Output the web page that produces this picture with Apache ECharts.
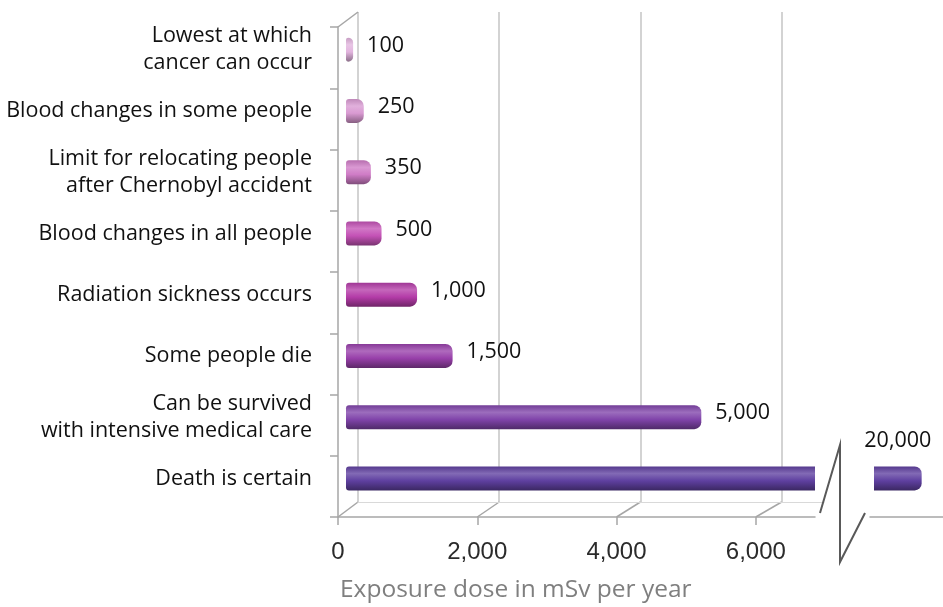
<!DOCTYPE html>
<html>
<head>
<meta charset="utf-8">
<script src="https://cdn.jsdelivr.net/npm/echarts@6/dist/echarts.min.js"></script>
<style>
  html, body { margin: 0; padding: 0; background: #fff; }
  #chart { width: 943px; height: 607px; }
</style>
</head>
<body>
<div id="chart"></div>
<script>
// data
const categories = [
  "Lowest at which\ncancer can occur",
  "Blood changes in some people",
  "Limit for relocating people\nafter Chernobyl accident",
  "Blood changes in all people",
  "Radiation sickness occurs",
  "Some people die",
  "Can be survived\nwith intensive medical care",
  "Death is certain"
];
const doses = [100, 250, 350, 500, 1000, 1500, 5000, 20000];
const barColors = ["#e2b4de", "#d99ad2", "#cf7cc6", "#c452b6", "#b43ca8", "#9840aa", "#8044aa", "#5f40a0"];
const tickValues = [0, 2000, 4000, 6000];
const brokenIndex = 7; // this bar runs past the axis break

const FONT = "'Open Sans', sans-serif";
const AXIS_GREY = "#a6a6a6";

// 3D box: front floor edge, back wall, bars in between
const front = { left: 338, top: 27, width: 477, height: 490 };
const back = { left: 358, top: 12, width: 466, height: 490 };
const bars = { left: 346, top: 19, width: 469, height: 490 };
const tail = { left: 874, top: 19, width: 69, height: 490 };
const tailFloor = { left: 870, top: 27, width: 73, height: 490 };

function mix(hex, amt) {
  const n = parseInt(hex.slice(1), 16);
  let r = (n >> 16) & 255, g = (n >> 8) & 255, b = n & 255;
  const t = amt > 0 ? 255 : 0, k = Math.abs(amt);
  r = Math.round(r + (t - r) * k);
  g = Math.round(g + (t - g) * k);
  b = Math.round(b + (t - b) * k);
  return "rgb(" + r + "," + g + "," + b + ")";
}

function cylinder(hex) {
  return new echarts.graphic.LinearGradient(0, 0, 0, 1, [
    { offset: 0, color: mix(hex, -0.12) },
    { offset: 0.3, color: mix(hex, 0.22) },
    { offset: 0.6, color: hex },
    { offset: 1, color: mix(hex, -0.38) }
  ]);
}

const fmt = v => v.toLocaleString("en-US");

function gridOf(r) {
  return { left: r.left, top: r.top, width: r.width, height: r.height, containLabel: false, outerBoundsMode: "none" };
}

function catAxis(gridIndex, extra) {
  return Object.assign({
    type: "category",
    gridIndex: gridIndex,
    data: categories,
    inverse: true,
    axisLine: { show: false },
    axisTick: { show: false },
    axisLabel: { show: false },
    splitLine: { show: false }
  }, extra || {});
}

function hiddenValueAxis(gridIndex, min, max) {
  return {
    type: "value",
    gridIndex: gridIndex,
    min: min,
    max: max,
    axisLine: { show: false },
    axisTick: { show: false },
    axisLabel: { show: false },
    splitLine: { show: false }
  };
}

const chart = echarts.init(document.getElementById("chart"));

const option = {
  backgroundColor: "#fff",
  animation: false,
  title: {
    text: "Exposure dose in mSv per year",
    left: 335,
    top: 573,
    textStyle: { fontFamily: FONT, fontSize: 24.5, fontWeight: "normal", color: "#7f7f7f" }
  },
  grid: [gridOf(front), gridOf(back), gridOf(bars), gridOf(tail), gridOf(tailFloor)],
  xAxis: [
    {
      type: "value",
      gridIndex: 0,
      min: 0,
      max: 6850,
      interval: 2000,
      axisLine: { show: true, lineStyle: { color: AXIS_GREY, width: 1.5 } },
      axisTick: { show: true, length: 8, customValues: tickValues, lineStyle: { color: AXIS_GREY, width: 1.5 } },
      axisLabel: {
        customValues: tickValues,
        formatter: fmt,
        margin: 23,
        fontFamily: "'Liberation Sans', Arial, sans-serif",
        fontSize: 24,
        color: "#2b2b2b"
      },
      splitLine: { show: false }
    },
    {
      type: "value",
      gridIndex: 1,
      min: 0,
      max: 6600,
      interval: 2000,
      axisLine: { show: true, lineStyle: { color: "#d9d9d9", width: 1 } },
      axisTick: { show: false },
      axisLabel: { show: false },
      splitLine: { show: true, showMaxLine: false, lineStyle: { color: "#c4c4c4", width: 1.5 } }
    },
    hiddenValueAxis(2, 0, 6600),
    hiddenValueAxis(3, 19330, 20300),
    {
      type: "value",
      gridIndex: 4,
      min: 0,
      max: 1,
      axisLine: { show: true, lineStyle: { color: AXIS_GREY, width: 1.5 } },
      axisTick: { show: false },
      axisLabel: { show: false },
      splitLine: { show: false }
    }
  ],
  yAxis: [
    catAxis(0, {
      axisLine: { show: true, lineStyle: { color: AXIS_GREY, width: 1.5 } },
      axisTick: { show: true, length: 8, lineStyle: { color: AXIS_GREY, width: 1.5 } }
    }),
    catAxis(1),
    catAxis(2, {
      axisLabel: {
        show: true,
        margin: 34,
        fontFamily: FONT,
        fontSize: 21.5,
        lineHeight: 27,
        color: "#111",
        align: "right"
      }
    }),
    catAxis(3),
    catAxis(4)
  ],
  series: [
    {
      name: "dose",
      type: "bar",
      xAxisIndex: 2,
      yAxisIndex: 2,
      barWidth: 24,
      clip: true,
      label: {
        show: true,
        position: "right",
        distance: 14,
        offset: [0, -4],
        formatter: p => fmt(p.value),
        fontFamily: FONT,
        fontSize: 21.5,
        color: "#111"
      },
      data: doses.map((v, i) => ({
        value: v,
        itemStyle: { color: cylinder(barColors[i]), borderRadius: i === brokenIndex ? [3, 0, 0, 3] : [3, 7, 7, 3] },
        label: i === brokenIndex ? { show: false } : undefined
      }))
    },
    {
      name: "dose (after break)",
      type: "bar",
      xAxisIndex: 3,
      yAxisIndex: 3,
      barWidth: 24,
      clip: true,
      label: {
        show: true,
        position: "top",
        distance: 15,
        formatter: p => fmt(p.value),
        fontFamily: FONT,
        fontSize: 21.5,
        color: "#111"
      },
      data: doses.map((v, i) => i === brokenIndex
        ? { value: v, itemStyle: { color: cylinder(barColors[i]), borderRadius: [0, 7, 7, 0] } }
        : "-")
    }
  ]
};

chart.setOption(option);

// 3D box edges: join the front floor ticks to the back wall gridlines
const frontBottom = front.top + front.height;
const backBottom = back.top + back.height;
const edges = tickValues.map(t => {
  const fx = chart.convertToPixel({ xAxisIndex: 0 }, t);
  const bx = chart.convertToPixel({ xAxisIndex: 1 }, t);
  return {
    type: "line",
    shape: { x1: fx, y1: frontBottom, x2: bx, y2: backBottom },
    style: { stroke: AXIS_GREY, lineWidth: 1.5 },
    silent: true
  };
});
edges.push({
  type: "line",
  shape: { x1: front.left, y1: front.top, x2: back.left, y2: back.top },
  style: { stroke: AXIS_GREY, lineWidth: 1.5 },
  silent: true
});

// axis break mark
const breakX = front.left + front.width;
edges.push({
  type: "polyline",
  shape: { points: [[breakX + 5, frontBottom - 4], [breakX + 25, frontBottom - 72], [breakX + 25, frontBottom + 45], [breakX + 50, frontBottom - 4]] },
  style: { stroke: "#595959", lineWidth: 2, fill: null },
  z: 10,
  silent: true
});

chart.setOption({ graphic: edges });
</script>
</body>
</html>
